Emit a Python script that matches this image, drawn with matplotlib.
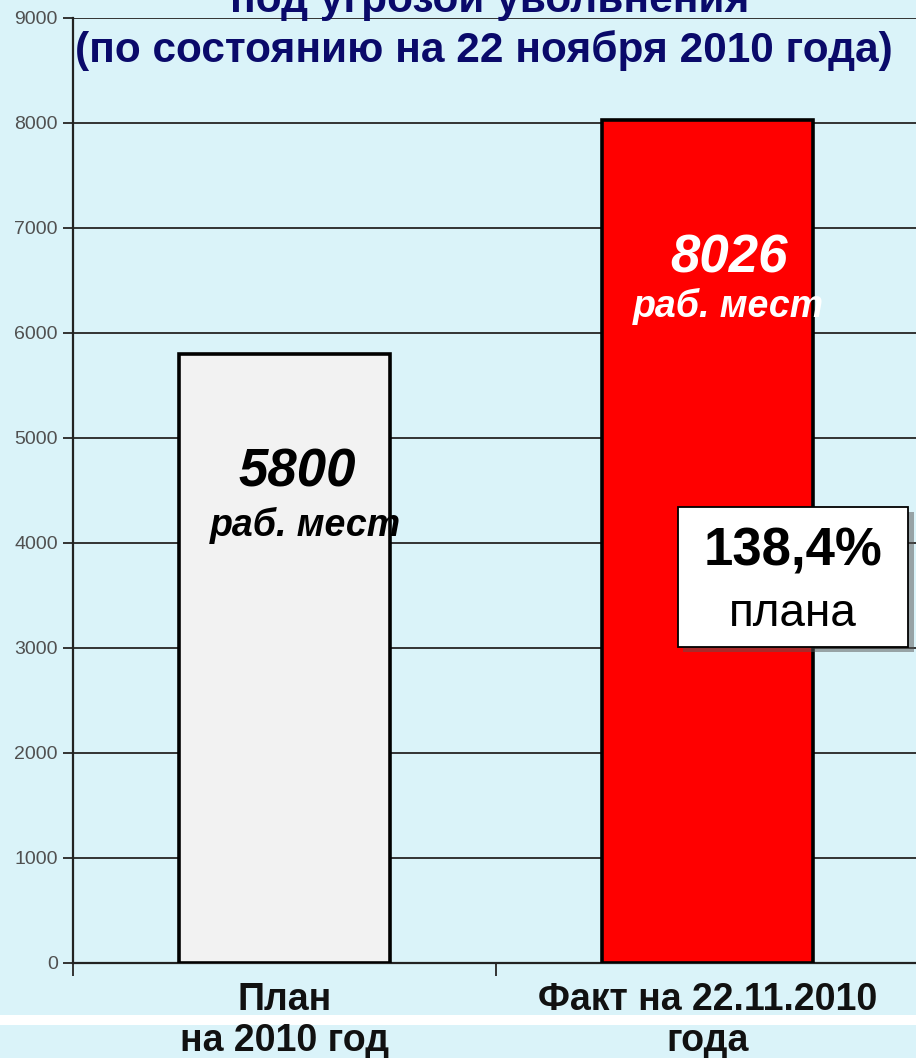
import matplotlib.pyplot as plt
import matplotlib.patches as mpatches
from matplotlib.transforms import blended_transform_factory

categories = ["План\nна 2010 год", "Факт на 22.11.2010\nгода"]
values = [5800, 8026]
bar_colors = ["#f2f2f2", "#ff0000"]
value_colors = ["#000000", "#ffffff"]
y_ticks = [0, 1000, 2000, 3000, 4000, 5000, 6000, 7000, 8000, 9000]

title_lines = ["под угрозой увольнения", "(по состоянию на 22 ноября 2010 года)"]

BG = "#daf3f9"
NAVY = "#0a0a6a"
plt.rcParams["font.family"] = ["Liberation Sans", "DejaVu Sans"]

fig = plt.figure(figsize=(9.16, 10.58), dpi=100)
fig.patch.set_facecolor(BG)

# white strip between the two lines of category labels
fig.patches.append(mpatches.Rectangle((0, 0.0312), 1, 0.0094, transform=fig.transFigure,
                                      facecolor="white", edgecolor="none", zorder=-1))

ax = fig.add_axes([73 / 916, 0.0898, 846 / 916, 0.8932])
ax.set_facecolor(BG)

x = list(range(len(values)))
ax.bar(x, values, width=0.5, color=bar_colors, edgecolor="black", linewidth=2.6, zorder=3)

ax.set_xlim(-0.5, 1.5)
ax.set_ylim(0, 9000)
ax.set_yticks(y_ticks)
ax.set_yticklabels([str(v) for v in y_ticks], fontsize=14, color="#505050")
ax.yaxis.grid(True, color="#333333", linewidth=1.4, zorder=0)
ax.set_axisbelow(True)
ax.tick_params(axis="y", length=7, width=1.4, pad=4, color="#333333")

ax.set_xticks([-0.5, 0.5, 1.5])
ax.set_xticklabels([])
ax.tick_params(axis="x", length=9, width=1.4, color="#333333")

# category labels, two lines each (the white strip runs between them)
trans = blended_transform_factory(ax.transData, fig.transFigure)
line_y = [1 - 1010 / 1058, 1 - 1051 / 1058]
for i, cat in enumerate(categories):
    for j, line in enumerate(cat.split("\n")):
        ax.text(x[i], line_y[j], line, transform=trans, ha="center", va="baseline",
                fontsize=27, fontweight="bold", color="#111111", clip_on=False, zorder=10)

for side in ["top", "right"]:
    ax.spines[side].set_visible(False)
ax.spines["left"].set_color("#222222")
ax.spines["left"].set_linewidth(1.6)
ax.spines["bottom"].set_color("#222222")
ax.spines["bottom"].set_linewidth(1.6)

# value labels inside bars
value_pos = [(0.03, 4540), (1.05, 6580)]
unit_pos = [(0.05, 4070), (1.05, 6150)]
for i, v in enumerate(values):
    ax.text(value_pos[i][0], value_pos[i][1], str(v), ha="center", va="baseline",
            fontsize=38, fontweight="bold", fontstyle="italic", color=value_colors[i], zorder=5)
    ax.text(unit_pos[i][0], unit_pos[i][1], "раб. мест", ha="center", va="baseline",
            fontsize=27, fontweight="bold", fontstyle="italic", color=value_colors[i], zorder=5)

# percentage box
pct = values[1] / values[0] * 100
shadow = mpatches.Rectangle((0.942, 2960), 0.545, 1333, facecolor="#555555", edgecolor="none",
                            alpha=0.5, zorder=5, clip_on=False)
box = mpatches.Rectangle((0.93, 3010), 0.545, 1333, facecolor="white", edgecolor="black",
                         linewidth=1.3, zorder=6, clip_on=False)
ax.add_patch(shadow)
ax.add_patch(box)
ax.text(1.202, 3790, f"{pct:.1f}%".replace(".", ","), ha="center", va="baseline",
        fontsize=38, fontweight="bold", color="black", zorder=7)
ax.text(1.202, 3210, "плана", ha="center", va="baseline", fontsize=33, color="black", zorder=7)

# the first title line is cut off by the top edge, as in the source
fig.text(490 / 916, 1 - 12 / 1058, title_lines[0], ha="center", va="baseline",
         fontsize=30.5, fontweight="bold", color=NAVY)
fig.text(484 / 916, 1 - 62 / 1058, title_lines[1], ha="center", va="baseline",
         fontsize=30.5, fontweight="bold", color=NAVY)

fig.savefig("out.png", dpi=100, facecolor=BG)
